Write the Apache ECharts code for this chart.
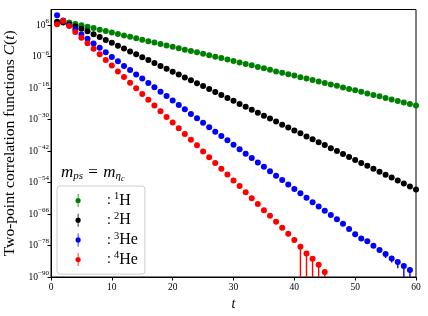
<!DOCTYPE html>
<html><head><meta charset="utf-8">
<script src="https://cdn.jsdelivr.net/npm/echarts@6/dist/echarts.min.js"></script>
<style>html,body{margin:0;padding:0;background:#fff}#c{width:428px;height:316px}</style>
</head><body><div id="c"></div>
<script>
// time slices t
const tSteps = [1,2,3,4,5,6,7,8,9,10,11,12,13,14,15,16,17,18,19,20,21,22,23,24,25,26,27,28,29,30,
  31,32,33,34,35,36,37,38,39,40,41,42,43,44,45,46,47,48,49,50,51,52,53,54,55,56,57,58,59,60];
// log10 C(t) (null = not shown)
const logH1 = [7.0,7.2,7.0,6.5,6.0,5.4,4.9,4.3,3.8,3.2,2.7,2.1,1.6,1.0,0.5,-0.1,-0.6,-1.2,-1.7,-2.2,
  -2.8,-3.3,-3.8,-4.3,-4.9,-5.4,-6.0,-6.5,-7.1,-7.6,-8.2,-8.8,-9.3,-9.9,-10.4,-11.0,-11.6,-12.1,-12.7,-13.2,
  -13.8,-14.3,-14.9,-15.5,-16.0,-16.6,-17.1,-17.7,-18.3,-18.8,-19.4,-20.0,-20.6,-21.1,-21.7,-22.3,-22.9,-23.5,-24.0,-24.6];
const logH2 = [7.3,7.0,6.3,5.5,4.7,3.7,2.6,1.5,0.4,-0.7,-1.8,-2.9,-4.0,-5.1,-6.2,-7.3,-8.4,-9.5,-10.6,-11.7,
  -12.8,-13.9,-15.0,-16.1,-17.2,-18.3,-19.5,-20.6,-21.7,-22.8,-24.0,-25.1,-26.2,-27.4,-28.5,-29.6,-30.7,-31.9,-33.0,-34.1,
  -35.2,-36.4,-37.5,-38.6,-39.7,-40.9,-42.0,-43.1,-44.2,-45.4,-46.5,-47.6,-48.7,-49.9,-51.0,-52.1,-53.2,-54.3,-55.5,-56.6];
const logHe3 = [9.8,7.8,6.0,4.4,2.5,0.8,-1.0,-2.6,-4.3,-6.1,-7.7,-9.5,-11.1,-12.8,-14.3,-16.0,-17.6,-19.4,-21.0,-22.7,
  -24.4,-26.0,-27.8,-29.5,-31.2,-32.9,-34.6,-36.2,-37.9,-39.6,-41.3,-43.0,-44.6,-46.3,-48.0,-49.7,-51.4,-53.0,-54.7,-56.4,
  -58.1,-59.8,-61.5,-63.1,-64.7,-66.4,-68.0,-69.7,-71.7,-73.7,-75.3,-76.4,-78.1,-79.7,-81.2,-82.9,-84.3,-85.8,-87.3,null];
const logHe4 = [6.4,7.6,5.7,3.4,1.2,-0.9,-3.0,-5.1,-7.3,-9.4,-11.6,-13.7,-15.9,-18.0,-20.2,-22.4,-24.6,-26.8,-29.0,-31.1,
  -33.3,-35.5,-37.7,-39.8,-42.1,-44.3,-46.5,-48.7,-50.9,-53.2,-55.3,-57.7,-60.0,-62.2,-64.5,-66.6,-68.9,-71.2,-73.5,-75.9,
  -78.5,-81.0,-83.0,-85.3,-88.1,null,null,null,null,null,null,null,null,null,null,null,null,null,null,null];
// error bars: t, log10 of lower end (null = lower end <= 0, bar reaches the axis)
const errT_He3 = [55,56,57,58,59];
const errLow_He3 = [-82.8,-84.5,-86.7,null,null];
const errT_He4 = [41,42,43,44,45];
const errLow_He4 = [null,null,null,null,null];
// y-axis (log10 scale) tick exponents
const yMinExp = -90, yMaxExp = 12, yStepExp = 12;
const seriesNames = ['1H','2H','3He','4He'];
const colors = ['#008000','#000000','#0000ff','#ff0000'];

const FONT = 'Liberation Serif';
function pts(arr){ const out=[]; arr.forEach((v,i)=>{ if(v!==null) out.push([tSteps[i], v]); }); return out; }
function errData(ts, lows, vals){
  return ts.map((t,i)=>[t, vals[tSteps.indexOf(t)], lows[i]===null ? yMinExp - 50 : lows[i]]);
}
function errSeries(name, ts, lows, vals, color){
  return {type:'custom', name:name, data: errData(ts,lows,vals), z:2,
    encode:{x:0, y:[1,2]},
    renderItem:function(params, api){
      const cs = params.coordSys; const yb = cs.y + cs.height;
      const p1 = api.coord([api.value(0), api.value(1)]);
      const p2 = api.coord([api.value(0), api.value(2)]);
      return {type:'line', shape:{x1:p1[0], y1:p1[1], x2:p1[0], y2:Math.min(p2[1], yb)}, style:{stroke:color, lineWidth:1.4}};
    }};
}
function scat(name, arr, color){
  return {type:'scatter', name:name, data:pts(arr), symbol:'circle', symbolSize:6, z:3,
    itemStyle:{color:color, opacity:1}, emphasis:{disabled:true}};
}
const chart = echarts.init(document.getElementById('c'), null, {renderer:'canvas'});
chart.setOption({
  animation:false,
  backgroundColor:'#fff',
  grid:{left:51, right:12, top:9.5, bottom:39, show:true, borderColor:'#000', borderWidth:1, backgroundColor:'transparent',
    containLabel:false, outerBoundsMode:'none'},
  xAxis:{type:'value', min:0, max:60, interval:10,
    axisLine:{onZero:false, lineStyle:{color:'#000', width:1}}, axisTick:{length:3.5, lineStyle:{color:'#000'}},
    splitLine:{show:false},
    axisLabel:{fontFamily:FONT, fontSize:9.5, color:'#000', margin:5},
    name:'t', nameLocation:'middle', nameGap:16,
    nameTextStyle:{fontFamily:FONT, fontSize:14, fontStyle:'italic', color:'#000'}},
  yAxis:{type:'value', min:yMinExp, max:yMaxExp, interval:yStepExp,
    axisLine:{show:true, onZero:false, lineStyle:{color:'#000', width:1}}, axisTick:{show:true, length:3.5, lineStyle:{color:'#000'}},
    splitLine:{show:false},
    axisLabel:{margin:2, showMaxLabel:false, formatter:function(e){ return '{b|10}{s|'+(e<0?'\u2212'+(-e):e)+'}'; },
      rich:{b:{fontFamily:FONT, fontSize:9.5, color:'#000'}, s:{fontFamily:FONT, fontSize:7, color:'#000', padding:[0,0,8,0]}}},
    name:'Two-point correlation functions {i|C}({i|t})', nameLocation:'middle', nameGap:30, nameRotate:90,
    nameTextStyle:{fontFamily:FONT, fontSize:15.5, color:'#000', rich:{i:{fontFamily:FONT, fontSize:15.5, fontStyle:'italic', color:'#000'}}}},
  legend:{data:seriesNames, orient:'vertical', left:57, top:186,
    backgroundColor:'#fff', borderColor:'#cccccc', borderWidth:1, borderRadius:3,
    padding:[5,7,5,18.5], itemGap:0.7, itemWidth:6, itemHeight:13,
    icon:'path://M3.4,0 L4.6,0 L4.6,20 L3.4,20 Z M4,6 A4,4 0 1 1 4,14 A4,4 0 1 1 4,6 Z',
    selectedMode:false,
    formatter:function(n){ const m = n.match(/^(\d)(.*)$/); return '{c|:}{s|'+m[1]+'}{b|'+m[2]+'}'; },
    textStyle:{fontFamily:FONT, fontSize:16, color:'#000', lineHeight:16,
      rich:{c:{fontFamily:FONT, fontSize:14, lineHeight:16, color:'#000', padding:[0,3,0,21]},
            s:{fontFamily:FONT, fontSize:10.5, lineHeight:8, color:'#000', padding:[0,0,8,0]},
            b:{fontFamily:FONT, fontSize:16, lineHeight:16, color:'#000'}}}},
  graphic:[{type:'text', left:61, top:164, z:10,
    style:{text:'{m|m}{sb|ps}{eq| = }{m|m}{sb|\u03B7}{ss|c}', fontFamily:FONT, fontSize:16, fill:'#000',
      rich:{m:{fontFamily:FONT, fontSize:17, fontStyle:'italic', fill:'#000'},
            eq:{fontFamily:FONT, fontSize:17, fill:'#000', padding:[0,1,0,1]},
            sb:{fontFamily:FONT, fontSize:11, fontStyle:'italic', fill:'#000', padding:[7,0,0,0]},
            ss:{fontFamily:FONT, fontSize:8, fontStyle:'italic', fill:'#000', padding:[12,0,0,0]}}}}],
  series:[
    scat('1H', logH1, colors[0]),
    scat('2H', logH2, colors[1]),
    errSeries('e3He', errT_He3, errLow_He3, logHe3, colors[2]),
    scat('3He', logHe3, colors[2]),
    errSeries('e4He', errT_He4, errLow_He4, logHe4, colors[3]),
    scat('4He', logHe4, colors[3])
  ]
});
</script></body></html>
